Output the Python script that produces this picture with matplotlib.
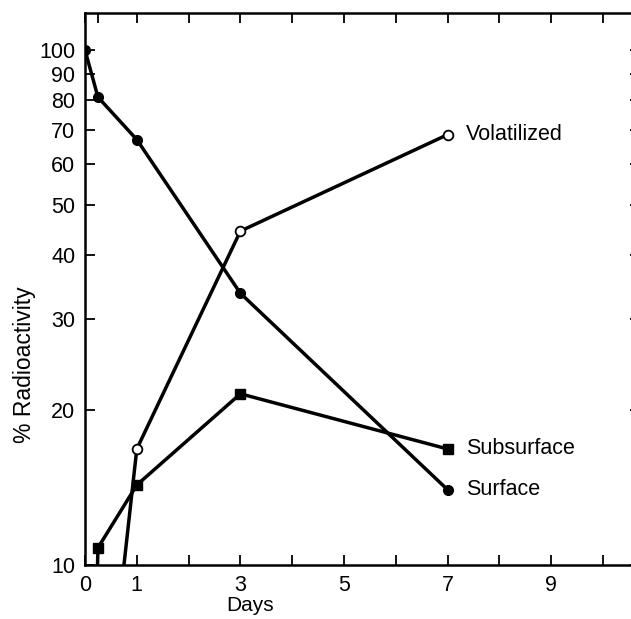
import matplotlib
matplotlib.use("Agg")
import matplotlib.pyplot as plt
from matplotlib.ticker import FixedLocator, FixedFormatter, NullLocator

# Data
surface_days = [0, 0.25, 1, 3, 7]
surface_vals = [100, 81, 67, 33.7, 14.0]

volatilized_days = [0.25, 1, 3, 7]
volatilized_vals = [3.5, 16.8, 44.5, 68.5]

subsurface_days = [0, 0.25, 1, 3, 7]
subsurface_vals = [1.0, 10.8, 14.3, 21.5, 16.8]

xtick_labels = ["0", "1", "3", "5", "7", "9"]
xtick_pos = [0, 1, 3, 5, 7, 9]
ytick_vals = [10, 20, 30, 40, 50, 60, 70, 80, 90, 100]

plt.rcParams['font.family'] = ['Liberation Sans', 'DejaVu Sans']

fig = plt.figure(figsize=(6.31, 6.19), dpi=100)
ax = fig.add_axes([85/631, (619-565)/619, 555/631, 552/619])

lw = 2.5
ax.plot(surface_days, surface_vals, color='black', lw=lw, marker='o', ms=7,
        mfc='black', mec='black')
ax.plot(volatilized_days, volatilized_vals, color='black', lw=lw, marker='o', ms=7,
        mfc='white', mec='black', mew=1.3)
ax.plot(subsurface_days, subsurface_vals, color='black', lw=lw, marker='s', ms=6.5,
        mfc='black', mec='black')

ax.set_yscale('log')
ax.set_ylim(10, 118)
ax.set_xlim(0, 555/51.8)

ax.yaxis.set_major_locator(FixedLocator(ytick_vals))
ax.yaxis.set_major_formatter(FixedFormatter([str(v) for v in ytick_vals]))
ax.yaxis.set_minor_locator(NullLocator())

ax.xaxis.set_major_locator(FixedLocator(xtick_pos))
ax.xaxis.set_major_formatter(FixedFormatter(xtick_labels))
ax.xaxis.set_minor_locator(FixedLocator([0.25, 2, 4, 6, 8, 10]))

ax.tick_params(axis='both', which='both', direction='in', length=7, width=1.3,
               top=True, right=True, labelsize=15.5, color='black')
ax.tick_params(axis='y', pad=7)
ax.tick_params(axis='x', pad=7)

for s in ax.spines.values():
    s.set_linewidth(1.8)

ax.set_xlabel("Days", fontsize=15, labelpad=0)
ax.xaxis.set_label_coords((250-85)/555, -0.057)
ax.set_ylabel("% Radioactivity", fontsize=16.5)
ax.yaxis.set_label_coords((36-85)/555, (565-365)/552)

label_kw = dict(textcoords='offset points', xytext=(13, 0), va='center',
                ha='left', fontsize=15.5)
ax.annotate("Volatilized", (volatilized_days[-1], volatilized_vals[-1]), **label_kw)
ax.annotate("Subsurface", (subsurface_days[-1], subsurface_vals[-1]), **label_kw)
ax.annotate("Surface", (surface_days[-1], surface_vals[-1]), **label_kw)

fig.savefig("out.png", dpi=100)
